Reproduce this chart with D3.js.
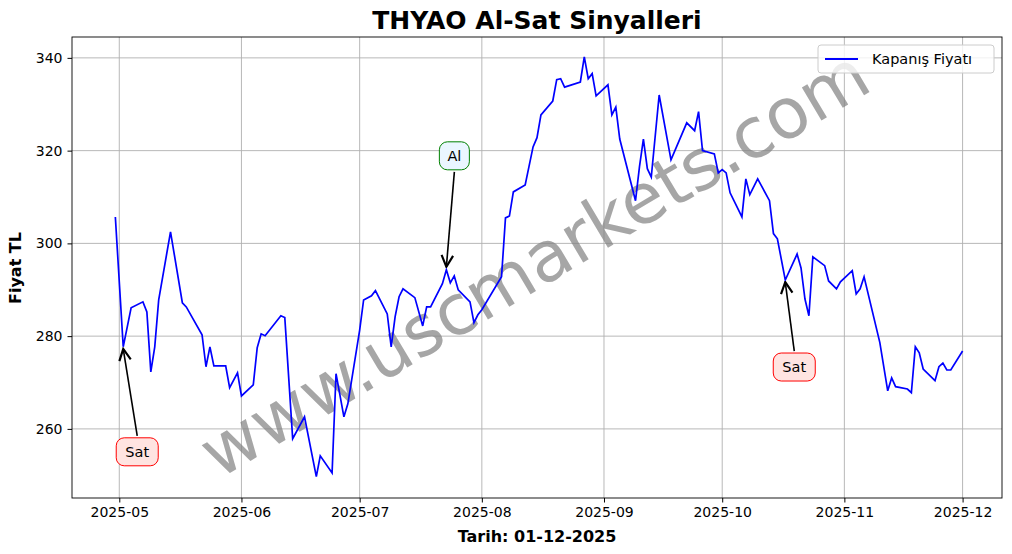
<!DOCTYPE html>
<html>
<head>
<meta charset="utf-8">
<script src="https://d3js.org/d3.v7.min.js"></script>
<style>
  body { margin: 0; background: #fff; }
  text { font-family: "DejaVu Sans", sans-serif; }
</style>
</head>
<body>
<svg id="chart" width="1012" height="554"></svg>
<script>
// closing prices
var dates = ["04-30","05-02","05-04","05-07","05-08","05-09","05-10","05-11","05-14","05-17",
  "05-18","05-22","05-23","05-24","05-25","05-28","05-29","05-31","06-01","06-04",
  "06-05","06-06","06-07","06-11","06-12","06-14","06-17","06-20","06-21","06-24",
  "06-25","06-27","06-28","07-01","07-02","07-04","07-05","07-08","07-09","07-10",
  "07-11","07-12","07-15","07-17","07-18","07-19","07-22","07-23","07-24","07-25",
  "07-26","07-29","07-30","07-31","08-01","08-06","08-07","08-08","08-09","08-12",
  "08-14","08-15","08-16","08-19","08-20","08-21","08-22","08-26","08-27","08-28",
  "08-29","08-30","09-02","09-03","09-04","09-05","09-09","09-10","09-11","09-12",
  "09-13","09-15","09-18","09-22","09-24","09-25","09-26","09-29","09-30","10-01",
  "10-02","10-03","10-06","10-07","10-08","10-10","10-13","10-14","10-15","10-17",
  "10-20","10-21","10-22","10-23","10-24","10-27","10-28","10-30","10-31","11-03",
  "11-04","11-05","11-06","11-10","11-12","11-13","11-14","11-17","11-18","11-19",
  "11-20","11-21","11-24","11-25","11-26","11-27","11-28","12-01"];
var closes = [305.7,277.7,286.1,287.4,285.2,272.3,277.7,287.8,302.5,287.2,
  286.3,280.3,273.4,277.7,273.6,273.6,268.9,272.1,267.1,269.5,
  277.5,280.5,280.1,284.4,284.0,257.9,262.6,249.7,254.2,250.5,
  271.9,262.6,265.4,281.3,287.8,288.7,289.8,284.8,277.7,284.2,
  288.5,290.2,288.3,282.2,286.3,286.3,291.3,294.3,291.5,293.0,
  290.0,287.4,282.9,284.6,285.7,292.8,305.5,305.9,311.1,312.6,
  320.8,322.8,327.7,330.7,335.3,335.5,333.7,334.8,340.2,335.5,
  336.6,331.8,334.2,327.7,329.4,322.5,309.2,316.5,322.5,316.1,
  314.3,332.0,318.0,326.0,324.3,328.4,320.0,319.3,315.2,315.9,
  315.2,310.9,305.7,313.9,310.5,313.9,309.2,302.1,301.0,292.1,
  297.7,294.7,288.0,284.4,297.1,295.2,291.9,290.2,291.7,294.1,
  289.1,290.2,292.8,278.6,268.2,271.0,269.1,268.6,267.8,277.7,
  276.4,272.9,270.4,273.4,274.2,272.7,272.7,276.8];
var signalDates = ["05-02", "07-23", "10-17"];
var signalTypes = ["Sat", "Al", "Sat"];
var yTicks = [260, 280, 300, 320, 340];
var xTickLabels = ["2025-05","2025-06","2025-07","2025-08","2025-09","2025-10","2025-11","2025-12"];

var parse = d3.timeParse("%Y-%m-%d");
var data = dates.map((d, i) => ({ date: parse("2025-" + d), value: closes[i] }));

var svg = d3.select("#chart");
var margin = { left: 72, right: 10, top: 37, bottom: 56 };
var width = 1012 - margin.left - margin.right;
var height = 554 - margin.top - margin.bottom;

var x = d3.scaleTime()
  .domain([parse("2025-04-19"), parse("2025-12-11")])
  .range([margin.left, margin.left + width]);
var y = d3.scaleLinear()
  .domain([245.1, 344.5])
  .range([margin.top + height, margin.top]);

var xTicks = xTickLabels.map(t => parse(t + "-01"));

// grid
var grid = svg.append("g").attr("stroke", "#b0b0b0").attr("stroke-width", 0.9);
xTicks.forEach(t => grid.append("line")
  .attr("x1", x(t)).attr("x2", x(t)).attr("y1", margin.top).attr("y2", margin.top + height));
yTicks.forEach(t => grid.append("line")
  .attr("x1", margin.left).attr("x2", margin.left + width).attr("y1", y(t)).attr("y2", y(t)));

// watermark
svg.append("text")
  .attr("transform", "translate(537,268) rotate(-30.8)")
  .attr("text-anchor", "middle").attr("dominant-baseline", "middle")
  .attr("font-size", 70).attr("fill", "#808080").attr("fill-opacity", 0.7)
  .text("www.uscmarkets.com");

// price line
svg.append("path").datum(data)
  .attr("fill", "none").attr("stroke", "#0000ff").attr("stroke-width", 1.7)
  .attr("d", d3.line().x(d => x(d.date)).y(d => y(d.value)));

// axes
var xAxis = svg.append("g")
  .attr("transform", `translate(0,${margin.top + height})`)
  .call(d3.axisBottom(x).tickValues(xTicks).tickFormat(d3.timeFormat("%Y-%m")).tickSize(4.5).tickPadding(5));
var yAxis = svg.append("g")
  .attr("transform", `translate(${margin.left},0)`)
  .call(d3.axisLeft(y).tickValues(yTicks).tickSize(4.5).tickPadding(5));
[xAxis, yAxis].forEach(a => {
  a.selectAll("text").attr("font-size", 14).attr("fill", "#000").style("font-family", "DejaVu Sans");
  a.selectAll("line").attr("stroke", "#000");
  a.select(".domain").remove();
});
svg.append("rect")
  .attr("x", margin.left).attr("y", margin.top).attr("width", width).attr("height", height)
  .attr("fill", "none").attr("stroke", "#000").attr("stroke-width", 0.9);

// signal annotations
svg.append("defs").append("marker")
  .attr("id", "arr").attr("viewBox", "0 0 10 10").attr("refX", 9).attr("refY", 5)
  .attr("markerWidth", 9).attr("markerHeight", 9).attr("orient", "auto-start-reverse")
  .append("path").attr("d", "M1,1 L9,5 L1,9").attr("fill", "none").attr("stroke", "#000").attr("stroke-width", 1.5);

var offsets = [[14, 105], [8, -114], [9, 87]];
signalDates.forEach((sd, i) => {
  var p = data.find(d => d.date.getTime() === parse("2025-" + sd).getTime());
  var px = x(p.date), py = y(p.value);
  var tx = px + offsets[i][0], ty = py + offsets[i][1];
  var isBuy = signalTypes[i] === "Al";
  var tipY = isBuy ? py - 3 : py + 2;
  var startY = isBuy ? ty + 16 : ty - 16;
  svg.append("line")
    .attr("x1", tx).attr("y1", startY)
    .attr("x2", px).attr("y2", tipY)
    .attr("stroke", "#000").attr("stroke-width", 1.6).attr("marker-end", "url(#arr)");
  var w = isBuy ? 30 : 42;
  svg.append("rect")
    .attr("x", tx - w / 2).attr("y", ty - 14).attr("width", w).attr("height", 28)
    .attr("rx", 8).attr("fill", isBuy ? "#eaf6ff" : "#ffe4e1")
    .attr("stroke", isBuy ? "#008000" : "#ff0000").attr("stroke-width", 1);
  svg.append("text")
    .attr("x", tx).attr("y", ty + 5).attr("text-anchor", "middle")
    .attr("font-size", 14.5).text(signalTypes[i]);
});

// legend
var lg = svg.append("g");
lg.append("rect").attr("x", 818).attr("y", 45).attr("width", 176).attr("height", 28)
  .attr("rx", 3).attr("fill", "#fff").attr("fill-opacity", 0.8).attr("stroke", "#ccc");
lg.append("line").attr("x1", 825).attr("x2", 858).attr("y1", 59).attr("y2", 59)
  .attr("stroke", "#0000ff").attr("stroke-width", 1.9);
lg.append("text").attr("x", 872).attr("y", 64).attr("font-size", 14.5).text("Kapanış Fiyatı");

// titles
svg.append("text").attr("x", 537).attr("y", 29).attr("text-anchor", "middle")
  .attr("font-size", 25).attr("font-weight", "bold").text("THYAO Al-Sat Sinyalleri");
svg.append("text").attr("x", 537).attr("y", 542).attr("text-anchor", "middle")
  .attr("font-size", 16).attr("font-weight", "bold").text("Tarih: 01-12-2025");
svg.append("text").attr("transform", "translate(21,268) rotate(-90)").attr("text-anchor", "middle")
  .attr("font-size", 16).attr("font-weight", "bold").text("Fiyat TL");
</script>
</body>
</html>
